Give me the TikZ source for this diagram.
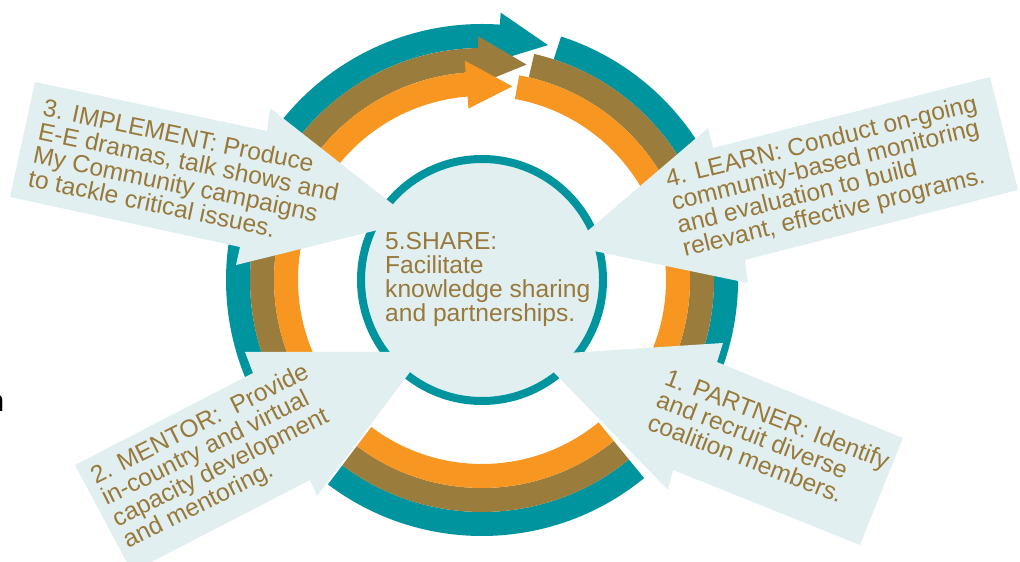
\documentclass[tikz,border=0pt]{standalone}
\usepackage{fontspec}
\setmainfont{Liberation Sans}
\usetikzlibrary{calc}
\definecolor{ringteal}{RGB}{0,149,158}
\definecolor{ringbrown}{RGB}{154,125,60}
\definecolor{ringorange}{RGB}{247,150,32}
\definecolor{paleblue}{RGB}{225,239,241}
\definecolor{txtbrown}{RGB}{152,121,58}
% ring band between radii #4 and #5, from angle #2 to angle #3
\newcommand{\ringband}[5]{%
  \fill[#1] ($(O)+(#2:#5pt)$) arc[start angle=#2, end angle=#3, radius=#5pt]
    -- ($(O)+(#3:#4pt)$) arc[start angle=#3, end angle=#2, radius=#4pt] -- cycle;}
% ring band ending in an arrow head: colour, start, head base, tip angle, r1, r2, head half width
\newcommand{\ringarrow}[7]{%
  \fill[#1] ($(O)+(#2:#6pt)$) arc[start angle=#2, end angle=#3, radius=#6pt]
    -- ($(O)+(#3:#6pt+#7pt-12pt)$)
    -- ($(O)+(#4:#5pt/2+#6pt/2)$)
    -- ($(O)+(#3:#5pt-#7pt+12pt)$)
    -- ($(O)+(#3:#5pt)$) arc[start angle=#3, end angle=#2, radius=#5pt] -- cycle;}
\begin{document}
\begin{tikzpicture}[x=1pt,y=1pt,
  lbl/.style={text=txtbrown, font=\fontsize{24.6}{24}\selectfont, align=left,
    inner sep=0pt, anchor=base west},
  blockarrow/.style={fill=paleblue}]
\useasboundingbox (0,0) rectangle (1020,562);
\clip (0,0) rectangle (1020,562);
\coordinate (O) at (482,282);

% outer cycle: teal, brown and orange rings
\ringarrow{ringteal}{225}{86}{74.3}{232}{256}{24}
\ringband{ringteal}{72}{-45}{232}{256}
\ringband{ringteal}{-50.7}{-127}{232}{256}
\ringarrow{ringbrown}{225}{91}{78.3}{208}{232}{24}
\ringband{ringbrown}{77}{-45}{208}{232}
\ringband{ringbrown}{-50.7}{-127}{208}{232}
\ringarrow{ringorange}{225}{94.5}{81.1}{184}{208}{24}
\ringband{ringorange}{79.7}{-45}{184}{208}
\ringband{ringorange}{-50.7}{-127}{184}{208}

% hub
\node[circle, draw=ringteal, line width=8pt, fill=paleblue, minimum size=242pt,
  inner sep=0pt] (hub) at (O) {};

% block arrows pointing into the hub
\fill[blockarrow] (35,480) -- (267,431) -- (270,454) -- (414,341) -- (236,297)
  -- (240,315) -- (10,365) -- cycle;
\fill[blockarrow] (990,485) -- (713,414) -- (708,434) -- (570,316) -- (748,279)
  -- (745,302) -- (1018,372) -- cycle;
\fill[blockarrow] (75,97) -- (253,189) -- (245,210) -- (425,210) -- (317,66)
  -- (310,82) -- (132,-10) -- cycle;
\fill[blockarrow] (903,124) -- (717,200) -- (723,219) -- (537,207) -- (668,72)
  -- (673,92) -- (860,17) -- cycle;

% labels (anchored at the baseline of their last line)
\node[lbl] (share) at (385,240) {5.SHARE:\\Facilitate\\knowledge sharing\\and partnerships.};
\node[lbl, rotate=-11.8] (implement) at (27,376)
  {3. IMPLEMENT: Produce\\E-E dramas, talk shows and\\My Community campaigns\\to tackle critical issues.};
\node[lbl, rotate=13.8] (learn) at (685,305)
  {4. LEARN: Conduct on-going\\community-based monitoring\\and evaluation to build\\relevant, effective programs.};
\node[lbl, rotate=26.6] (mentor) at (128,13)
  {2. MENTOR: \ Provide\\in-country and virtual\\capacity development\\and mentoring.};
\node[lbl, rotate=-21] (partner) at (646,133)
  {1. PARTNER: Identify\\and recruit diverse\\coalition members.};
\node[anchor=base east, inner sep=0pt, font=\fontsize{30}{30}\selectfont] (stub) at (4.5,150) {n};
\end{tikzpicture}
\end{document}
